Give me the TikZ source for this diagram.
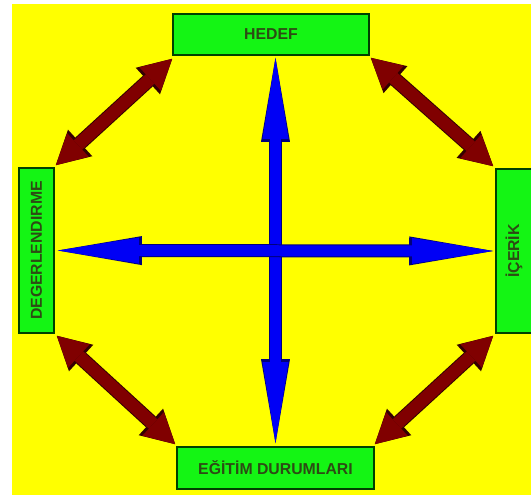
\documentclass[tikz,border=0pt]{standalone}
\usepackage{fontspec}
\usepackage{graphicx}
\setmainfont{Liberation Sans}
\usetikzlibrary{arrows.meta,calc}
\definecolor{bgyellow}{RGB}{255,255,0}
\definecolor{boxgreen}{RGB}{20,245,20}
\definecolor{boxtext}{RGB}{45,75,20}
\definecolor{arrowred}{RGB}{128,0,0}
\definecolor{arrowblue}{RGB}{0,0,245}
\tikzset{
  box/.style={draw=black!75!green, line width=0.9pt, fill=boxgreen, text=boxtext,
    font=\bfseries\fontsize{9}{10}\selectfont, inner sep=0pt},
  redarrow/.style={draw=arrowred, line width=0.25cm,
    {Triangle[width=0.64cm,length=0.6cm,line width=0pt]}-{Triangle[width=0.64cm,length=0.6cm,line width=0pt]},
    preaction={draw=black!60!arrowred, line width=0.29cm,
      {Triangle[width=0.72cm,length=0.66cm,line width=0pt]}-{Triangle[width=0.72cm,length=0.66cm,line width=0pt]}}},
  bluearrow/.style={draw=arrowblue, line width=0.22cm,
    {Triangle[width=0.52cm,length=1.62cm,line width=0pt]}-{Triangle[width=0.52cm,length=1.62cm,line width=0pt]},
    preaction={draw=black!50!arrowblue, line width=0.26cm,
      {Triangle[width=0.58cm,length=1.68cm,line width=0pt]}-{Triangle[width=0.58cm,length=1.68cm,line width=0pt]}}},
}

\begin{document}
\begin{tikzpicture}[x=0.02cm,y=-0.02cm]
% ---------- background ----------
\fill[white] (0,0) rectangle (531,499);
\useasboundingbox (0,0) rectangle (531,499);
\fill[bgyellow] (12,4) rectangle (531,495);
% ---------- boxes ----------
\node[box, minimum width=3.92cm, minimum height=0.82cm] (hedef) at (271,34.5) {HEDEF};
\node[box, minimum width=3.94cm, minimum height=0.84cm] (egitim) at (275.5,468) {EĞİTİM DURUMLARI};
\node[box, minimum width=0.7cm, minimum height=3.3cm] (degr) at (36.5,250.5) {\rotatebox{90}{DEGERLENDIRME}};
\node[box, minimum width=0.72cm, minimum height=3.28cm] (icerik) at (514,251) {\rotatebox{90}{İÇERİK}};
% ---------- cross ----------
\draw[bluearrow] ($(hedef.south -| egitim.north)+(0,2)$) -- ($(egitim.north)+(0,-3)$);
\draw[bluearrow] ($(degr.east)+(3,0)$) -- ($(icerik.west)+(-2,0)$);
% ---------- corner arrows ----------
\draw[redarrow] ($(degr.north east)+(1,-2)$) -- ($(hedef.south west)+(0,3)$);
\draw[redarrow] ($(hedef.south east)+(1,2)$) -- ($(icerik.north west)+(-2,-2)$);
\draw[redarrow] ($(degr.south east)+(2,2)$) -- ($(egitim.north west)+(-1,-2)$);
\draw[redarrow] ($(egitim.north east)+(0,-2)$) -- ($(icerik.south west)+(-2,2)$);
\end{tikzpicture}
\end{document}
